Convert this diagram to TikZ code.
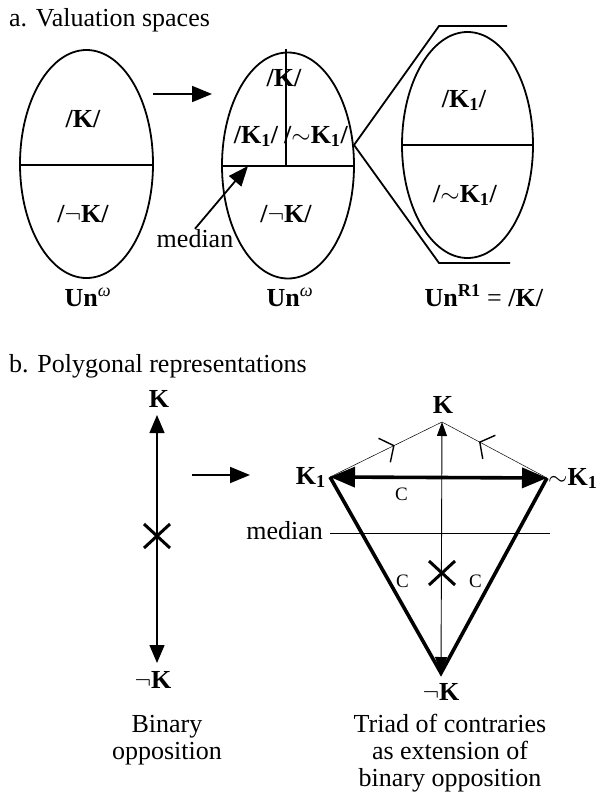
\documentclass[tikz,border=0pt]{standalone}
\usepackage{fontspec}
\setmainfont{Liberation Serif}
\usetikzlibrary{arrows.meta, decorations.markings}

\begin{document}
\begin{tikzpicture}[x=1pt, y=-1pt,
    every node/.style={inner sep=0pt, font=\fontsize{26}{28}\selectfont},
    lbl/.style={font=\fontsize{26}{28}\selectfont\bfseries},
    cee/.style={font=\fontsize{19}{20}\selectfont},
    oval/.style={line width=1.8pt},
    arr/.style={line width=1.8pt, -{Triangle[length=20pt, width=16pt]}},
    hair/.style={line width=0.5pt},
    axis/.style={line width=0.9pt},
    heavy/.style={line width=3.6pt},
    xmark/.style={line width=3pt},
    barb/.style={postaction=decorate, decoration={markings,
        mark=at position #1 with {\draw[line width=1.4pt] (-10.5pt,13.4pt) -- (0pt,0pt) -- (-10.5pt,-13.4pt);}}}]
    \useasboundingbox (0,0) rectangle (603,792);

    \node[anchor=base west] (titleA) at (9,27) {a. Valuation spaces};

    \draw[oval] (86.5,164) ellipse [x radius=66.5pt, y radius=114pt];
    \draw[oval] (20,165) -- (153,165);
    \node[lbl, anchor=base] (kA) at (83,127) {/K/};
    \node[lbl, anchor=base] (nkA) at (83,222) {/$\neg$K/};
    \node[anchor=base] (unA) at (88,306) {\textbf{Un}\textsuperscript{\textit{ω}}};

    \coordinate (arrA) at (153,94);
    \coordinate (arrB) at (212,94);
    \draw[arr] (arrA) -- (arrB);

    \draw[oval] (288,165.5) ellipse [x radius=66pt, y radius=113pt];
    \draw[oval] (222,166) -- (355,166);
    \draw[oval] (286,49) -- (286,166);
    \node[lbl, anchor=base] (kB) at (284,86) {/K/};
    \node[lbl, anchor=base] (kOneB) at (256,143) {/K\textsubscript{1}/};
    \node[lbl, anchor=base] (tkOneB) at (316,143) {/$\sim$K\textsubscript{1}/};
    \node[lbl, anchor=base] (nkB) at (286,222) {/$\neg$K/};
    \node[anchor=base] (unB) at (290,306) {\textbf{Un}\textsuperscript{\textit{ω}}};

    \node[anchor=base] (medTxt) at (195,247) {median};
    \coordinate (medPt) at (248,166);
    \draw[arr] (medTxt.north) -- (medPt);

    \coordinate (zoomTip) at (354,145);
    \draw[oval] (507,26) -- (439,26) -- (zoomTip) -- (439,263) -- (510,263);

    \draw[oval] (467.5,145) ellipse [x radius=65.5pt, y radius=113pt];
    \draw[oval] (401,145) -- (534,145);
    \node[lbl, anchor=base] (kOneC) at (464,107) {/K\textsubscript{1}/};
    \node[lbl, anchor=base] (tkOneC) at (465,202) {/$\sim$K\textsubscript{1}/};
    \node[anchor=base] (unC) at (484,306) {\textbf{Un\textsuperscript{R1}} = \textbf{/K/}};

    \node[anchor=base west] (titleB) at (9,372) {b. Polygonal representations};

    \coordinate (bTop) at (157,415);
    \coordinate (bBot) at (157,663);
    \node[lbl, anchor=base] (bK) at (159,407) {K};
    \node[lbl, anchor=base] (bnK) at (153,688) {$\neg$K};
    \draw[line width=1.3pt, {Triangle[length=18pt, width=15pt]}-{Triangle[length=18pt, width=15pt]}] (bTop) -- (bBot);
    \draw[xmark] (144,524) -- (170,548) (144,548) -- (170,524);

    \coordinate (arrC) at (192,475);
    \coordinate (arrD) at (250,475);
    \draw[arr] (arrC) -- (arrD);

    \coordinate (K) at (442,422);
    \coordinate (K1) at (330,477);
    \coordinate (tK1) at (547,478);
    \coordinate (nK) at (441,673);
    \node[lbl, anchor=base] (tK) at (443,413) {K};
    \node[lbl, anchor=base east] (tKone) at (326,484) {K\textsubscript{1}};
    \node[lbl, anchor=base west] (tTKone) at (548,485) {$\sim$K\textsubscript{1}};
    \node[lbl, anchor=base] (tnK) at (441,700) {$\neg$K};

    \draw[hair, barb=0.57] (K1) -- (K);
    \draw[hair, barb=0.64] (tK1) -- (K);
    \draw[axis] (330,533) -- (550,533);
    \node[anchor=base east] (medTxtB) at (323,539) {median};
    \draw[axis, {Triangle[length=14pt, width=10pt]}-{Triangle[length=16pt, width=12pt]}] (K) -- (nK);
    \draw[heavy, line join=miter] (K1) -- (nK) -- (tK1);
    \draw[heavy, {Triangle[length=25pt, width=20pt]}-{Triangle[length=25pt, width=20pt]}] (K1) -- (tK1);
    \draw[xmark] (429,561) -- (455,585) (429,585) -- (455,561);
    \node[cee] (cTop) at (401.5,494.5) {C};
    \node[cee] (cLeft) at (402.5,581.5) {C};
    \node[cee] (cRight) at (475.5,581.5) {C};

    \node[anchor=base] (binA) at (167,732) {Binary};
    \node[anchor=base] (binB) at (167,759) {opposition};
    \node[anchor=base] (triA) at (450,732) {Triad of contraries};
    \node[anchor=base] (triB) at (450,759) {as extension of};
    \node[anchor=base] (triC) at (450,786) {binary opposition};
\end{tikzpicture}
\end{document}
